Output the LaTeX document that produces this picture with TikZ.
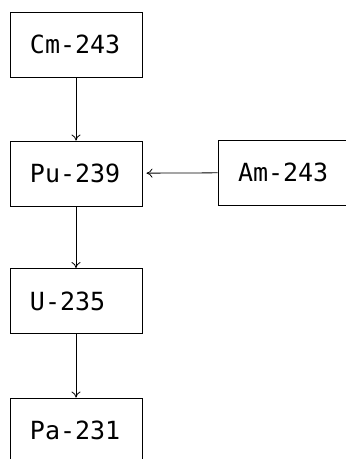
\documentclass[tikz,border=0pt]{standalone}
\usepackage{fontspec}
\setmainfont{DejaVu Sans Mono}
\usetikzlibrary{arrows.meta}

\begin{document}
\begin{tikzpicture}[x=1pt,y=1pt,
  nuclide/.style={draw,line width=0.9pt,minimum height=65pt,text width=92pt,
    inner xsep=20pt,align=left,font=\fontsize{25}{29}\selectfont},
  decay/.style={-{To[length=6pt,width=9pt]},line width=0.8pt}]
\useasboundingbox (0,0) rectangle (346,-459);
% decay chain, top to bottom
\node[nuclide] (cm) at (76,-44.5) {Cm-243};
\node[nuclide] (pu) at (76,-173.5) {Pu-239};
\node[nuclide] (u)  at (76,-301) {U-235};
\node[nuclide] (pa) at (76,-430.5) {Pa-231};
% side branch
\node[nuclide] (am) at (284,-172.5) {Am-243};
\draw[decay] (cm) -- (pu);
\draw[decay] (pu) -- (u);
\draw[decay] (u) -- (pa);
\draw[decay,shorten >=4pt] (am) -- (pu);
\end{tikzpicture}
\end{document}
